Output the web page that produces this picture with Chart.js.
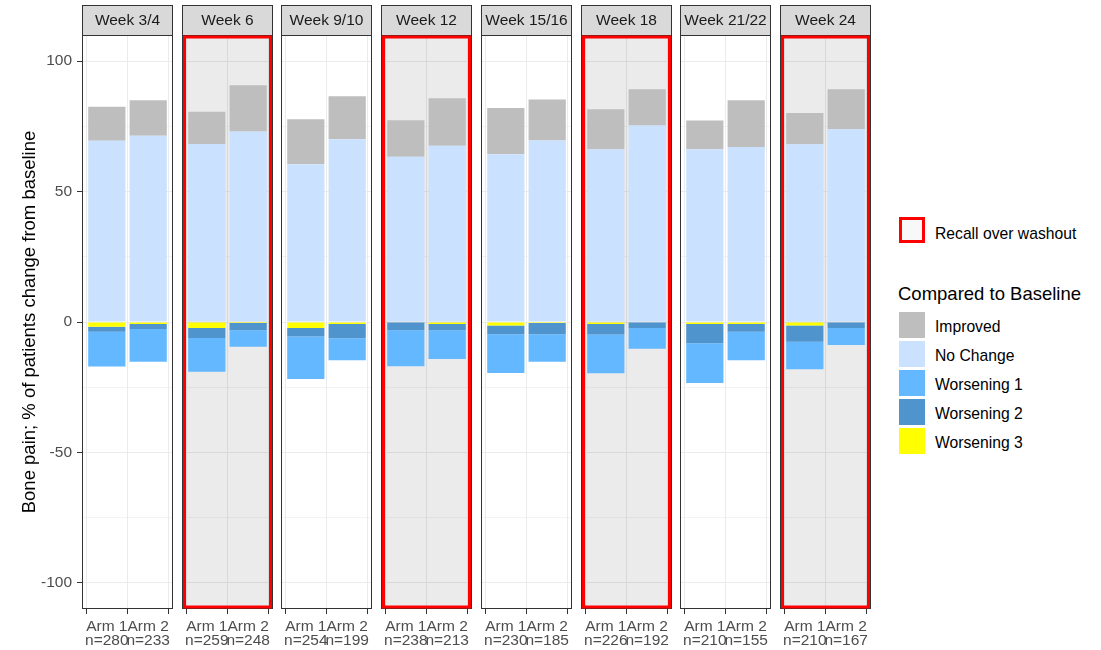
<!DOCTYPE html>
<html>
<head>
<meta charset="utf-8">
<script src="https://cdn.jsdelivr.net/npm/chart.js@4/dist/chart.umd.min.js"></script>
<style>
  html, body { margin: 0; padding: 0; background: #ffffff; }
  #wrap { position: relative; width: 1101px; height: 650px; overflow: hidden;
          font-family: "Liberation Sans", Arial, sans-serif; }
  #wrap canvas { position: absolute; top: 0; }
  .lg-box { position: absolute; box-sizing: border-box; }
  .lg-text { position: absolute; white-space: nowrap; color: #000; }
</style>
</head>
<body>
<div id="wrap"></div>
<script>
// Visit windows (one facet each) and the arms compared within them
const weeks = ['Week 3/4', 'Week 6', 'Week 9/10', 'Week 12', 'Week 15/16', 'Week 18', 'Week 21/22', 'Week 24'];
const washoutWeeks = ['Week 6', 'Week 12', 'Week 18', 'Week 24'];
const arms = ['Arm 1', 'Arm 2'];
const nArm1 = [280, 259, 254, 238, 230, 226, 210, 210];
const nArm2 = [233, 248, 199, 213, 185, 192, 155, 167];

// % of patients by change from baseline (worsening shown below zero)
const improvedArm1  = [13.0, 12.4, 17.2, 14.0, 17.7, 15.3, 11.0, 12.0];
const improvedArm2  = [13.6, 17.7, 16.5, 18.2, 15.7, 13.9, 17.9, 15.3];
const noChangeArm1  = [69.5, 68.2, 60.5, 63.3, 64.3, 66.2, 66.2, 68.1];
const noChangeArm2  = [71.4, 73.0, 70.0, 67.6, 69.6, 75.3, 67.1, 73.9];
const worse1Arm1    = [13.4, 13.0, 16.2, 13.8, 14.8, 14.8, 15.3, 10.5];
const worse1Arm2    = [12.5, 6.3, 8.5, 11.0, 10.5, 8.0, 11.0, 6.5];
const worse2Arm1    = [1.9, 3.8, 3.3, 3.2, 3.4, 4.0, 7.3, 6.3];
const worse2Arm2    = [1.9, 2.8, 5.4, 2.4, 4.3, 2.3, 2.9, 2.3];
const worse3Arm1    = [1.8, 2.3, 2.3, 0.0, 1.3, 0.8, 0.8, 1.3];
const worse3Arm2    = [0.8, 0.4, 0.8, 0.8, 0.4, 0.0, 0.8, 0.0];

// Y axis ticks: labelled majors and unlabelled minors
const yTicks = [-100, -75, -50, -25, 0, 25, 50, 75, 100];
const yLabels = [-100, -50, 0, 50, 100];

const seriesNames = ['Improved', 'No Change', 'Worsening 1', 'Worsening 2', 'Worsening 3'];
const seriesColors = {
  'Improved': '#BEBEBE',
  'No Change': '#CAE1FF',
  'Worsening 1': '#63B8FF',
  'Worsening 2': '#4F94CD',
  'Worsening 3': '#FFFF00'
};

const FONT = "'Liberation Sans', Arial, sans-serif";
const TEXT_SIZE = 15.5;
Chart.defaults.font.family = FONT;

// Facet geometry
const PANEL_X0 = 82, PANEL_STEP = 99.7, PANEL_W = 91, PAD = 3;
const CANVAS_H = 650, AREA_BOTTOM = 609;

// Strip, shaded background and borders of each facet
const panelDeco = {
  id: 'panelDeco',
  beforeDraw(chart, args, opts) {
    const { ctx, chartArea: a } = chart;
    ctx.save();
    ctx.fillStyle = '#D9D9D9';
    ctx.fillRect(a.left, 5, a.right - a.left, a.top - 5);
    ctx.strokeStyle = '#333333';
    ctx.lineWidth = 1;
    ctx.strokeRect(a.left + 0.5, 5.5, a.right - a.left - 1, a.top - 5);
    ctx.restore();
  },
  beforeDatasetsDraw(chart, args, opts) {
    if (!opts.washout) return;
    const { ctx, chartArea: a } = chart;
    ctx.save();
    ctx.fillStyle = 'rgba(0,0,0,0.078)';
    ctx.fillRect(a.left, a.top, a.right - a.left, a.bottom - a.top);
    ctx.restore();
  },
  afterDatasetsDraw(chart, args, opts) {
    const { ctx, chartArea: a } = chart;
    ctx.save();
    ctx.strokeStyle = '#333333';
    ctx.lineWidth = 1;
    ctx.strokeRect(a.left + 0.5, a.top + 0.5, a.right - a.left - 1, a.bottom - a.top - 1);
    if (opts.washout) {
      ctx.strokeStyle = '#FF0000';
      ctx.lineWidth = 3;
      ctx.strokeRect(a.left + 2.5, a.top + 2, a.right - a.left - 5, a.bottom - a.top - 4);
    }
    ctx.restore();
  }
};

function pts(a1, a2, i, sign) {
  return [{ x: 1, y: sign * a1[i] }, { x: 2, y: sign * a2[i] }];
}

const wrap = document.getElementById('wrap');

weeks.forEach((week, i) => {
  const first = i === 0;
  const washout = washoutWeeks.includes(week);
  const areaLeft = Math.round(PANEL_X0 + i * PANEL_STEP);
  const canvasLeft = first ? 0 : areaLeft - PAD;
  const canvasW = first ? areaLeft + PANEL_W + PAD : PANEL_W + 2 * PAD;

  const canvas = document.createElement('canvas');
  canvas.width = canvasW;
  canvas.height = CANVAS_H;
  canvas.style.left = canvasLeft + 'px';
  canvas.style.width = canvasW + 'px';
  canvas.style.height = CANVAS_H + 'px';
  wrap.appendChild(canvas);

  const ds = (name, data) => ({
    label: name, data, backgroundColor: seriesColors[name], borderWidth: 0,
    categoryPercentage: 1.0, barPercentage: 0.9
  });

  new Chart(canvas, {
    type: 'bar',
    data: {
      datasets: [
        ds('No Change', pts(noChangeArm1, noChangeArm2, i, 1)),
        ds('Improved', pts(improvedArm1, improvedArm2, i, 1)),
        ds('Worsening 3', pts(worse3Arm1, worse3Arm2, i, -1)),
        ds('Worsening 2', pts(worse2Arm1, worse2Arm2, i, -1)),
        ds('Worsening 1', pts(worse1Arm1, worse1Arm2, i, -1))
      ]
    },
    options: {
      responsive: false,
      animation: false,
      events: [],
      layout: { padding: { left: first ? 0 : PAD, right: PAD, top: 5, bottom: 0 } },
      scales: {
        x: {
          type: 'linear', min: 0.4, max: 2.6, stacked: true, offset: false,
          afterBuildTicks: s => { s.ticks = [{ value: 1 }, { value: 2 }]; },
          afterFit: s => { s.height = CANVAS_H - AREA_BOTTOM; },
          ticks: {
            autoSkip: false, maxRotation: 0, minRotation: 0, padding: 5,
            color: '#4D4D4D', font: { size: TEXT_SIZE, lineHeight: 0.94 },
            callback: v => [arms[v - 1], 'n=' + (v === 1 ? nArm1[i] : nArm2[i])]
          },
          grid: { color: '#EBEBEB', lineWidth: 1, drawTicks: true, tickLength: 5, tickColor: '#333333', tickWidth: 1 },
          border: { display: false }
        },
        y: {
          min: -110, max: 110, stacked: true,
          afterBuildTicks: s => { s.ticks = yTicks.map(v => ({ value: v })); },
          afterFit: s => { s.width = first ? PANEL_X0 : 0; },
          ticks: {
            display: first, autoSkip: false, padding: 5, color: '#4D4D4D', font: { size: TEXT_SIZE },
            callback: v => yLabels.includes(v) ? String(v) : ''
          },
          grid: {
            color: '#EBEBEB',
            lineWidth: c => (c.tick && c.tick.value % 50 === 0) ? 1 : 0.6,
            drawTicks: first, tickLength: 5, tickWidth: 1,
            tickColor: c => (c.tick && c.tick.value % 50 === 0) ? '#333333' : 'rgba(0,0,0,0)'
          },
          border: { display: false },
          title: {
            display: first, text: 'Bone pain; % of patients change from baseline',
            color: '#000000', font: { size: 18.5 }, padding: { top: 19, bottom: 0 }
          }
        }
      },
      plugins: {
        legend: { display: false },
        tooltip: { enabled: false },
        title: {
          display: true, text: week, fullSize: false, color: '#1A1A1A',
          font: { size: TEXT_SIZE, weight: 'normal', lineHeight: 1.2 }, padding: { top: 6, bottom: 5.4 }
        },
        panelDeco: { washout }
      }
    },
    plugins: [panelDeco]
  });
});

// Legend: washout outline, then the fill key
function addBox(left, top, w, h, style) {
  const d = document.createElement('div');
  d.className = 'lg-box';
  Object.assign(d.style, { left: left + 'px', top: top + 'px', width: w + 'px', height: h + 'px' }, style);
  wrap.appendChild(d);
}
function addText(text, left, centerY, size) {
  const d = document.createElement('div');
  d.className = 'lg-text';
  const lh = Math.round(size * 1.2);
  Object.assign(d.style, { left: left + 'px', top: Math.round(centerY - lh / 2) + 'px',
    fontSize: size + 'px', lineHeight: lh + 'px' });
  d.textContent = text;
  wrap.appendChild(d);
}

addBox(899, 217, 26, 26, { border: '3px solid #FF0000', background: '#F8F8F8' });
addText('Recall over washout', 935, 233, TEXT_SIZE + 0.2);
addText('Compared to Baseline', 898, 294, 18.5);
seriesNames.forEach((name, k) => {
  const top = Math.round(312 + k * 28.9);
  addBox(899, top, 26, 26, { background: seriesColors[name] });
  addText(name, 935, top + 14, TEXT_SIZE + 0.2);
});
</script>
</body>
</html>
